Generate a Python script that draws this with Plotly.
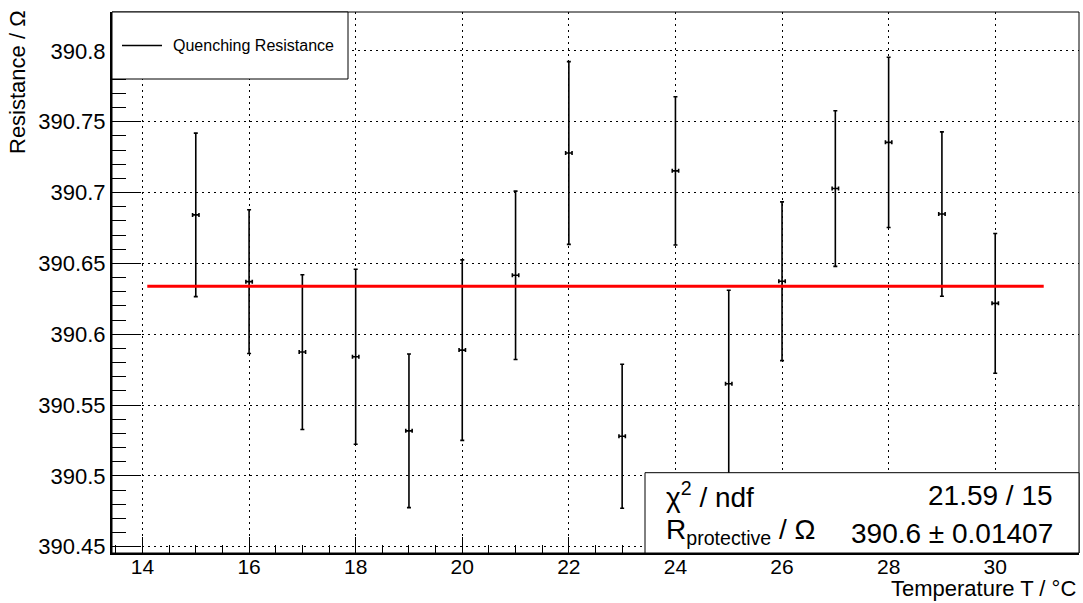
import plotly.graph_objects as go

# ---------------- data ----------------
temperature = [15, 16, 17, 18, 19, 20, 21, 22, 23, 24, 25, 26, 27, 28, 29, 30]
resistance = [390.6842, 390.6371, 390.5874, 390.5841, 390.5318, 390.5888, 390.6416, 390.7279,
              390.5280, 390.7153, 390.5650, 390.6374, 390.7028, 390.7354, 390.6848, 390.6218]
resistance_err = [0.0577, 0.0507, 0.0546, 0.0617, 0.0542, 0.0637, 0.0594, 0.0645,
                  0.0508, 0.0523, 0.0660, 0.0560, 0.0549, 0.0601, 0.0580, 0.0493]
temperature_err = [0.06] * 16

fit_value = 390.6338
fit_range = [14.09, 30.91]

chi2_text = "21.59 / 15"
param_text = "390.6 \u00b1 0.01407"

x_range = [13.428, 31.572]
y_range = [390.4456, 390.8274]

FONT = "Liberation Sans, Arial, Helvetica, sans-serif"

fig = go.Figure()

fig.add_trace(go.Scatter(
    x=temperature, y=resistance, mode="markers",
    marker=dict(size=1, color="black"),
    error_y=dict(type="data", array=resistance_err, color="black", thickness=1.6, width=2),
    error_x=dict(type="data", array=temperature_err, color="black", thickness=1.6, width=2),
    name="Quenching Resistance", showlegend=False,
))

fig.add_trace(go.Scatter(
    x=fit_range, y=[fit_value, fit_value], mode="lines",
    line=dict(color="#ff0000", width=3), showlegend=False, hoverinfo="skip",
))

W, H = 1083, 603
L, R, T, B = 112, 4, 12, 50
PW, PH = W - L - R, H - T - B


def px(xp):
    return (xp - L) / PW


def py(yp):
    return (H - B - yp) / PH


grid = dict(showgrid=True, gridcolor="black", gridwidth=1, griddash="2px,4px")

fig.update_layout(
    width=W, height=H, autosize=False,
    margin=dict(l=L, r=R, t=T, b=B, pad=0),
    plot_bgcolor="white", paper_bgcolor="white",
    font=dict(family=FONT, color="black"),
    xaxis=dict(
        range=x_range, tickmode="linear", tick0=14, dtick=2,
        ticks="inside", ticklen=16, tickwidth=1, tickcolor="black",
        minor=dict(dtick=0.5, tick0=14, ticks="inside", ticklen=8, tickcolor="black", showgrid=False),
        showline=True, linecolor="black", linewidth=2,
        tickfont=dict(size=21, family=FONT), zeroline=False, ticklabelstandoff=-6, **grid,
    ),
    yaxis=dict(
        range=y_range, tickmode="linear", tick0=390.45, dtick=0.05,
        ticks="inside", ticklen=29, tickwidth=1, tickcolor="black",
        minor=dict(dtick=0.01, tick0=390.45, ticks="inside", ticklen=14, tickcolor="black", showgrid=False),
        showline=True, linecolor="black", linewidth=2,
        tickfont=dict(size=22, family=FONT), zeroline=False, **grid,
    ),
    shapes=[
        # frame (top / right)
        dict(type="rect", xref="paper", yref="paper", x0=0, x1=1, y0=0, y1=1,
             line=dict(color="black", width=1), layer="above"),
        # legend box
        dict(type="rect", xref="paper", yref="paper", x0=0, x1=px(348), y0=py(79), y1=1,
             line=dict(color="black", width=1), fillcolor="white", layer="above"),
        dict(type="line", xref="paper", yref="paper", x0=px(122), x1=px(162), y0=py(45.5), y1=py(45.5),
             line=dict(color="black", width=1.5), layer="above"),
        # stats box
        dict(type="rect", xref="paper", yref="paper", x0=px(645), x1=1, y0=0, y1=py(472.7),
             line=dict(color="black", width=1), fillcolor="white", layer="above"),
    ],
    annotations=[
        dict(text="Quenching Resistance", xref="paper", yref="paper", x=px(171), y=py(45.5),
             xanchor="left", yanchor="middle", showarrow=False, font=dict(size=16, family=FONT)),
        dict(text="Resistance / \u03a9", xref="paper", yref="paper", x=px(18), y=py(8),
             xanchor="center", yanchor="top", textangle=-90, showarrow=False,
             font=dict(size=22, family=FONT)),
        dict(text="Temperature T / \u00b0C", xref="paper", yref="paper", x=px(1078), y=py(588),
             xanchor="right", yanchor="middle", showarrow=False, font=dict(size=22, family=FONT)),
        dict(text="\u03c7<sup>2</sup> / ndf", xref="paper", yref="paper", x=px(664), y=py(495),
             xanchor="left", yanchor="middle", showarrow=False, font=dict(size=28, family=FONT)),
        dict(text=chi2_text, xref="paper", yref="paper", x=px(1055), y=py(495),
             xanchor="right", yanchor="middle", showarrow=False, font=dict(size=28, family=FONT)),
        dict(text="R<sub>protective</sub> / \u03a9", xref="paper", yref="paper", x=px(664), y=py(531),
             xanchor="left", yanchor="middle", showarrow=False, font=dict(size=28, family=FONT)),
        dict(text=param_text, xref="paper", yref="paper", x=px(1055), y=py(533),
             xanchor="right", yanchor="middle", showarrow=False, font=dict(size=28, family=FONT)),
    ],
)

fig.write_html("out.html", config={"displayModeBar": False},
               post_script="document.body.style.margin='0';document.body.style.padding='0';")
